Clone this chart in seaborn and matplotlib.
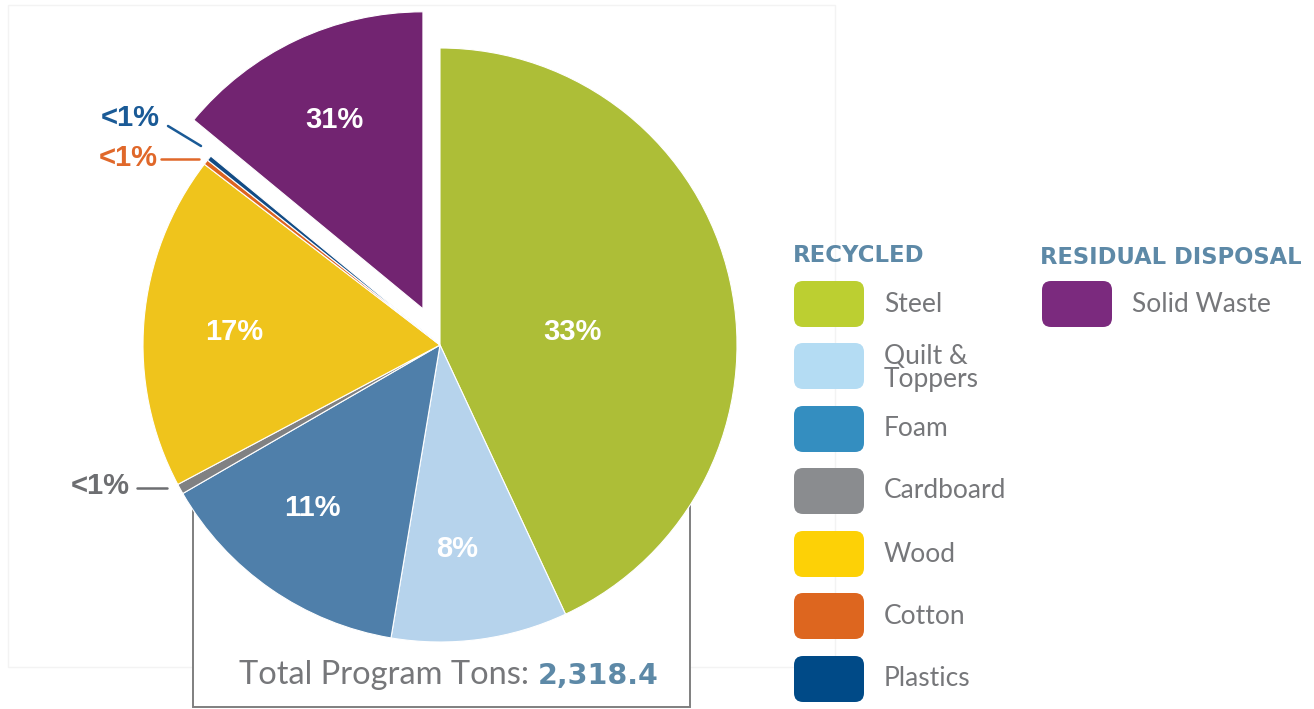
# Program tonnage pie chart - recycled vs residual disposal
import seaborn as sns
import matplotlib.pyplot as plt
from matplotlib.patches import FancyBboxPatch, Rectangle

sns.set_theme(style="white")
plt.rcParams['font.family'] = ['Lato', 'DejaVu Sans']

# data (slice shares, printed labels as shown)
materials = ["Steel", "Quilt &\nToppers", "Foam", "Cardboard", "Wood", "Cotton", "Plastics", "Solid Waste"]
share = [155, 34.5, 50.5, 2, 65.5, 1, 1, 50.5]
pct_labels = ["33%", "8%", "11%", "<1%", "17%", "<1%", "<1%", "31%"]
recycled = materials[:7]
residual = materials[7:]
total_tons = "2,318.4"

pie_colors = ["#adbe37", "#b6d3ec", "#4f7faa", "#808183", "#efc41c", "#dd6420", "#134c85", "#722471"]
legend_colors = ["#bccf31", "#b4dcf3", "#348ec0", "#8a8c8f", "#fdd106", "#dd661f", "#004a87", "#7b2a7e"]
gray = "#6d6e71"
light_gray = "#76777a"
head = "#5d89a7"

W, H = 1314, 709
fig = plt.figure(figsize=(W / 100, H / 100), dpi=100)
ax = fig.add_axes([0, 0, 1, 1])

def Y(y):
    # picture rows -> data coords
    return H - y

# faint background panel
ax.add_patch(Rectangle((8, Y(667)), 827, 662, fill=False, ec="#f3f3f3", lw=1, zorder=0))
# total box (top edge hidden by the pie)
ax.add_patch(Rectangle((193, Y(707)), 497, 202, fc="white", ec="#7f7f7f", lw=1.4, zorder=1))

# explode is in data units here (pixels)
explode = [0] * 7 + [40]
wedges, _ = ax.pie(share, colors=pie_colors, startangle=90, counterclock=False,
                   center=(440, Y(345)), radius=297, explode=explode,
                   wedgeprops=dict(edgecolor="white", linewidth=0.8))
for w in wedges:
    w.set_zorder(2)

ax.set_xlim(0, W)
ax.set_ylim(0, H)
ax.set_aspect("equal")
ax.axis("off")

# percentage labels inside the slices
cond = ['Liberation Sans Narrow', 'Liberation Sans']
inside = {0: (572, 332), 1: (457, 549), 2: (312, 508), 4: (234, 332), 7: (334, 120)}
for i, (x, y) in inside.items():
    ax.text(x, Y(y), pct_labels[i], color="white", fontsize=21, fontweight="bold",
            family=cond, ha="center", va="center", zorder=5)

# small slices with leader lines
small = [(6, (160, 118), [(168, 126), (201, 146)], "#1a5a96"),
         (5, (158, 158), [(161, 159), (199, 159)], "#e0682a"),
         (3, (130, 486), [(137, 488), (167, 488)], gray)]
for i, (tx, ty), pts, c in small:
    ax.text(tx, Y(ty), pct_labels[i], color=c, fontsize=21, fontweight="bold",
            family=cond, ha="right", va="center", zorder=5)
    ax.plot([p[0] for p in pts], [Y(p[1]) for p in pts], color=c, lw=1.8, zorder=5)

# total
ax.text(529, Y(684), "Total Program Tons:", color=light_gray, fontsize=23.5,
        ha="right", va="baseline", zorder=5)
ax.text(538, Y(684), total_tons, color=head, fontsize=20.5, fontweight="bold",
        family=['DejaVu Sans'], ha="left", va="baseline", zorder=5)

# legend
def swatch(x, yc, color):
    ax.add_patch(FancyBboxPatch((x, Y(yc) - 23), 70, 46,
                                boxstyle="round,pad=0,rounding_size=9",
                                fc=color, ec="none", zorder=3))

ax.text(793, Y(255), "RECYCLED", color=head, fontsize=16.4, fontweight="bold",
        family=['DejaVu Sans'], ha="left", va="center")
ax.text(1040, Y(258), "RESIDUAL DISPOSAL", color=head, fontsize=16.3, fontweight="bold",
        family=['DejaVu Sans'], ha="left", va="center")

row_y = [304, 366, 429, 491, 554, 616, 679]
for name, c, yc in zip(recycled, legend_colors[:7], row_y):
    swatch(794, yc, c)
    ty = yc + 2 if "\n" in name else yc
    ax.text(884, Y(ty), name, color=light_gray, fontsize=19,
            ha="left", va="center", linespacing=0.9)
for name, c in zip(residual, legend_colors[7:]):
    swatch(1042, 304, c)
    ax.text(1132, Y(304), name, color=light_gray, fontsize=19,
            ha="left", va="center")

fig.savefig("out.png", dpi=100, facecolor="white")
